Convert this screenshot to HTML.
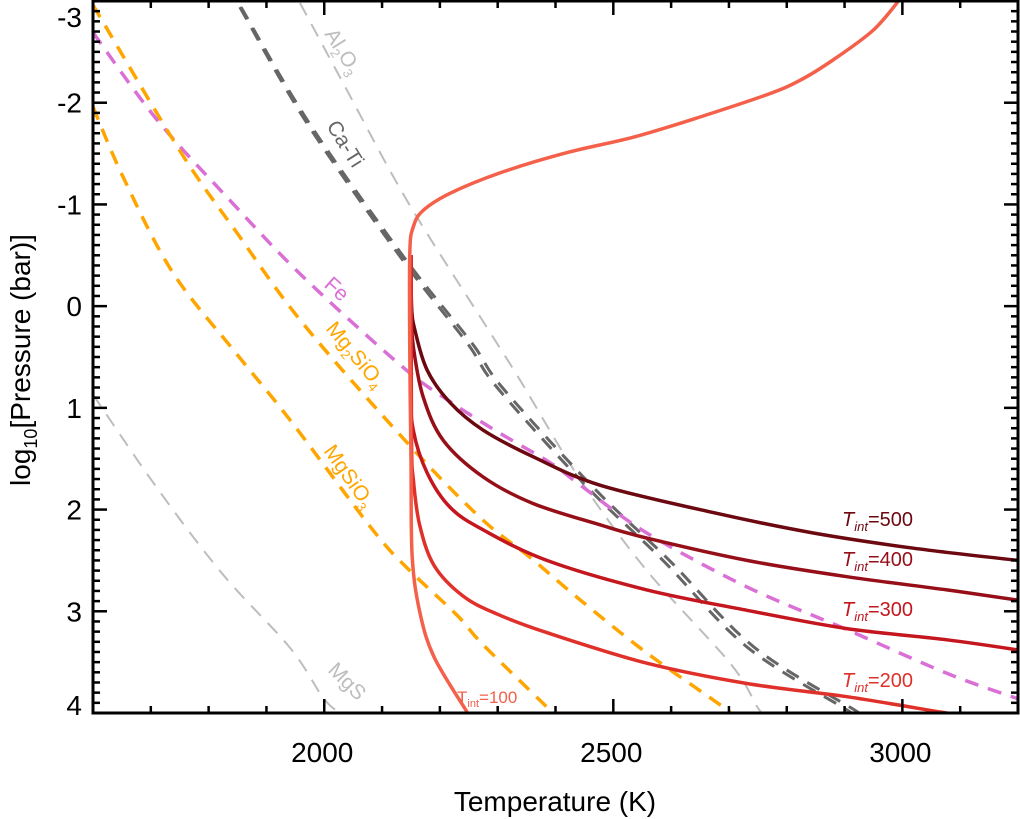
<!DOCTYPE html>
<html><head><meta charset="utf-8"><style>
body{margin:0;background:#fff;}
svg{display:block;font-family:"Liberation Sans",Arial,sans-serif;}
</style></head><body>
<svg id="c" width="1020" height="819" xmlns="http://www.w3.org/2000/svg"></svg>
<script>
const xTicksMajor=[2000,2500,3000];
const yTicksMajor=[-3,-2,-1,0,1,2,3,4];
const mg2sio4=[[1600,-2.96],[1750,-1.53],[1849,-0.72],[1963,0.17],[2143,1.34],[2270,2.08],[2356,2.47],[2443,2.89],[2558,3.41],[2685,3.92],[2702,4.0]];
const mgsio3=[[1600,-1.96],[1652,-1.27],[1738,-0.33],[1850,0.48],[1941,1.12],[2084,2.2],[2148,2.6],[2230,3.04],[2275,3.33],[2394,3.99]];
const fe=[[1600,-2.69],[1711,-1.83],[1837,-1.04],[1963,-0.29],[2136,0.60],[2218,0.94],[2304,1.25],[2391,1.54],[2443,1.76],[2558,2.23],[2731,2.76],[2904,3.18],[3077,3.61],[3200,3.86]];
const caTiA=[[1854,-2.94],[1970,-1.80],[2136,-0.45],[2247,0.36],[2299,0.80],[2455,1.78],[2586,2.50],[2731,3.35],[2904,3.97],[2910,4.0]];
const caTiB=[[1856,-2.94],[1974,-1.80],[2142,-0.45],[2255,0.36],[2308,0.80],[2465,1.78],[2597,2.50],[2743,3.35],[2917,3.97],[2922,4.0]];
const al2o3=[[1958,-2.98],[2033,-2.19],[2143,-1.04],[2287,0.26],[2339,0.73],[2443,1.71],[2558,2.60],[2702,3.51],[2749,3.94],[2758,4.0]];
const mgs=[[1600,0.87],[1711,1.79],[1825,2.64],[1941,3.36],[1998,3.85],[2027,4.0]];
const t100=[[2992,-2.99],[2949,-2.71],[2880,-2.42],[2823,-2.22],[2766,-2.08],[2650,-1.86],[2534,-1.66],[2420,-1.51],[2304,-1.31],[2218,-1.11],[2171,-0.94],[2154,-0.78],[2148,-0.52],[2148,0.48],[2150,1.5],[2152,2.45],[2165,3.0],[2190,3.45],[2247,3.99]];
const t500=[[2150,-0.5],[2151,0.0],[2157,0.24],[2178,0.63],[2218,0.95],[2275,1.22],[2361,1.48],[2477,1.76],[2673,2.03],[2846,2.23],[3019,2.38],[3200,2.50]];
const t400=[[2150,-0.5],[2151,0.1],[2154,0.40],[2171,0.89],[2206,1.32],[2275,1.68],[2361,1.94],[2477,2.15],[2558,2.28],[2731,2.50],[2904,2.66],[3077,2.79],[3200,2.89]];
const t300=[[2150,-0.5],[2150,0.8],[2154,1.22],[2178,1.64],[2218,1.98],[2275,2.20],[2385,2.50],[2558,2.79],[2731,2.99],[2904,3.17],[3077,3.28],[3200,3.38]];
const t200=[[2150,-0.5],[2151,1.3],[2154,1.7],[2165,2.15],[2190,2.55],[2240,2.85],[2300,3.03],[2385,3.21],[2558,3.51],[2731,3.71],[2904,3.84],[3065,3.99],[3100,4.02]];

const L=93,R=1018,T=1,B=713,xmin=1600,xmax=3200,ymin=-3,ymax=4;
const X=v=>L+(v-xmin)/(xmax-xmin)*(R-L);
const Y=v=>T+(v-ymin)/(ymax-ymin)*(B-T);
const svg=document.getElementById('c');
const NS='http://www.w3.org/2000/svg';
function mk(tag,attrs,parent){const e=document.createElementNS(NS,tag);for(const k in attrs)e.setAttribute(k,attrs[k]);(parent||svg).appendChild(e);return e;}
const clip=mk('clipPath',{id:'pc'});mk('rect',{x:L,y:T,width:R-L,height:B-T},clip);
function smooth(data){
  const p=data.map(d=>[X(d[0]),Y(d[1])]);
  let d='M'+p[0][0].toFixed(1)+','+p[0][1].toFixed(1);
  for(let i=0;i<p.length-1;i++){
    const p0=p[i-1]||p[i],p1=p[i],p2=p[i+1],p3=p[i+2]||p2;
    const c1=[p1[0]+(p2[0]-p0[0])/6,p1[1]+(p2[1]-p0[1])/6];
    const c2=[p2[0]-(p3[0]-p1[0])/6,p2[1]-(p3[1]-p1[1])/6];
    d+='C'+c1.map(v=>v.toFixed(1)).join(',')+' '+c2.map(v=>v.toFixed(1)).join(',')+' '+p2.map(v=>v.toFixed(1)).join(',');
  }
  return d;
}
function line(data,color,w,dash,name){
  const e=mk('path',{d:smooth(data),fill:'none',stroke:color,'stroke-width':w,'stroke-dasharray':dash||'none','clip-path':'url(#pc)','stroke-linejoin':'round'});
  
  
}
line(mgs,'#bdbdbd',2,'14,10','mgs-curve');
line(al2o3,'#bdbdbd',2,'14,10','al2o3-curve');
line(caTiA,'#666',3,'14,10','cati-curve-a');
line(caTiB,'#666',3,'14,10','cati-curve-b');
line(fe,'#da70d6',3.5,'14,10','fe-curve');
line(mg2sio4,'#ffa500',3.5,'14,10','mg2sio4-curve');
line(mgsio3,'#ffa500',3.5,'14,10','mgsio3-curve');
line(t500,'#6b0810',3.5,null,'tint500-profile');
line(t400,'#960f18',3.5,null,'tint400-profile');
line(t300,'#c4161e',3.5,null,'tint300-profile');
line(t200,'#e0302a',3.5,null,'tint200-profile');
line(t100,'#f4604a',3.5,null,'tint100-profile');

const fr=mk('rect',{x:L,y:T,width:R-L,height:B-T,fill:'none',stroke:'#000','stroke-width':3});

for(let v=xmin;v<=xmax;v+=100){
  const maj=v%500===0,len=maj?14:7,x=X(v);
  mk('line',{x1:x,x2:x,y1:B,y2:B-len,stroke:'#000','stroke-width':2.5});
  mk('line',{x1:x,x2:x,y1:T,y2:T+len,stroke:'#000','stroke-width':2.5});
}
for(let i=0;i<=70;i++){
  const v=ymin+i/10,maj=i%10===0,len=maj?14:7,y=Y(v);
  mk('line',{x1:L,x2:L+len,y1:y,y2:y,stroke:'#000','stroke-width':2.5});
  mk('line',{x1:R,x2:R-len,y1:y,y2:y,stroke:'#000','stroke-width':2.5});
}
xTicksMajor.forEach(v=>{const t=mk('text',{x:X(v)-2,y:762,'font-size':28,'text-anchor':'middle'});t.textContent=v;
  });
yTicksMajor.forEach(v=>{let y=Y(v)+10;if(v===-3)y=27;if(v===4)y=715;
  const t=mk('text',{x:82,y:y,'font-size':28,'text-anchor':'end'});t.textContent=v;
  });
</script>
<svg width="1020" height="819" style="position:absolute;left:0;top:0" xmlns="http://www.w3.org/2000/svg" font-family="Liberation Sans, Arial, sans-serif">
<text x="555" y="811" font-size="28" text-anchor="middle">Temperature (K)</text>
<text transform="translate(30,360) rotate(-90)" font-size="28" text-anchor="middle">log<tspan font-size="18" dy="7">10</tspan><tspan dy="-7">[Pressure (bar)]</tspan></text>
<g font-size="21">
<text transform="translate(324,34) rotate(58)" fill="#bdbdbd">Al<tspan font-size="13" dy="5">2</tspan><tspan dy="-5">O</tspan><tspan font-size="13" dy="5">3</tspan></text>
<text transform="translate(326,126) rotate(58)" fill="#666">Ca-Ti</text>
<text transform="translate(323,286) rotate(42)" fill="#da70d6">Fe</text>
<text transform="translate(325,329) rotate(50)" fill="#ffa500">Mg<tspan font-size="13" dy="5">2</tspan><tspan dy="-5">SiO</tspan><tspan font-size="13" dy="5">4</tspan></text>
<text transform="translate(323,451) rotate(55)" fill="#ffa500">MgSiO<tspan font-size="13" dy="5">3</tspan></text>
<text transform="translate(327,671) rotate(45)" fill="#bdbdbd">MgS</text>
</g>
<g font-size="20">
<text x="842" y="526" fill="#6b0810"><tspan font-style="italic">T</tspan><tspan font-size="13" font-style="italic" dy="5">int</tspan><tspan dy="-5">=500</tspan></text>
<text x="842" y="566" fill="#960f18"><tspan font-style="italic">T</tspan><tspan font-size="13" font-style="italic" dy="5">int</tspan><tspan dy="-5">=400</tspan></text>
<text x="842" y="616" fill="#c4161e"><tspan font-style="italic">T</tspan><tspan font-size="13" font-style="italic" dy="5">int</tspan><tspan dy="-5">=300</tspan></text>
<text x="842" y="687" fill="#e0302a"><tspan font-style="italic">T</tspan><tspan font-size="13" font-style="italic" dy="5">int</tspan><tspan dy="-5">=200</tspan></text>
<text x="457" y="703" font-size="17" fill="#f4604a">T<tspan font-size="11" dy="4">int</tspan><tspan dy="-4">=100</tspan></text>
</g>
</svg>
</body></html>
